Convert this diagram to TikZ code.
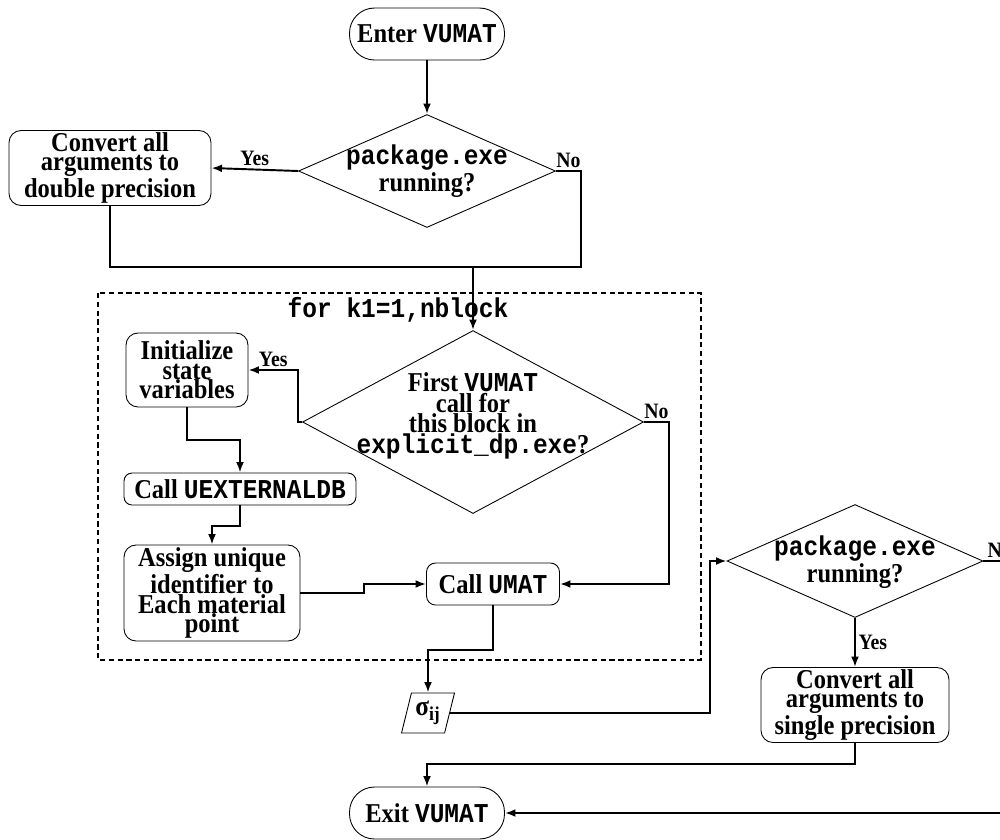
\documentclass[tikz,border=0pt]{standalone}
\usepackage{fontspec}
\setmainfont{Liberation Serif}[FakeStretch=0.9]
\setmonofont{Liberation Mono}[FakeStretch=0.9]
\usetikzlibrary{shapes.geometric}
\usetikzlibrary{arrows.meta,arrows}
\newcommand{\flowfont}{\fontsize{15.5}{11}\selectfont\bfseries}
\newcommand{\lblfont}{\fontsize{12.5}{12}\selectfont\bfseries}

\begin{document}
\begin{tikzpicture}[x=0.02cm,y=-0.02cm,
  terminal/.style={draw, line width=0.5pt, rounded corners=0.5cm, minimum width=3.1cm, minimum height=1.04cm, font=\flowfont},
  procbox/.style={draw, line width=0.5pt, rounded corners=0.24cm, align=center, inner sep=0pt, font=\flowfont},
  decision/.style={draw, diamond, line width=0.5pt, inner sep=0pt},
  dtext/.style={align=center, inner sep=0pt, font=\flowfont},
  iobox/.style={draw, trapezium, trapezium left angle=72, trapezium right angle=108, trapezium stretches=true, line width=0.5pt, minimum width=1.06cm, minimum height=0.8cm, inner sep=0pt, font=\fontsize{16}{16}\selectfont\bfseries},
  flow/.style={line width=1.1pt},
  arr/.style={-{Latex[length=6pt,width=4.5pt]}},
  lbl/.style={font=\lblfont, inner sep=1.5pt},
  loopbox/.style={line width=0.9pt, dash pattern=on 3pt off 2pt}]
\useasboundingbox (0,0) rectangle (1000,839);
\fill[white] (0,0) rectangle (1000,839);
\clip (0,0) rectangle (1000,839);
% Start and first test
\node[terminal] (enter) at (427,34) {Enter \texttt{VUMAT}};
\node[decision, minimum width=5.14cm, minimum height=2.26cm] (dia1) at (427,171) {};
\node[dtext] (dia1t) at (427,171) {\texttt{package.exe}\\running?};
\node[procbox, minimum width=4.04cm, minimum height=1.5cm] (conv1) at (110,168) {Convert all\\arguments to\\double precision};
% Loop over the blocks
\draw[loopbox] (98,293) rectangle (701,660);
\node[font=\flowfont, inner sep=0pt] (loop) at (398,310) {\texttt{for k1=1,nblock}};
\node[decision, minimum width=6.82cm, minimum height=3.66cm] (dia2) at (473,422) {};
\node[dtext] (dia2t) at (473,416) {First \texttt{VUMAT}\\call for\\this block in\\\texttt{explicit\_dp.exe}?};
\node[procbox, minimum width=2.44cm, minimum height=1.48cm] (init) at (187,370) {Initialize\\state\\variables};
\node[procbox, minimum width=4.64cm, minimum height=0.64cm, rounded corners=0.16cm] (uext) at (240,489) {Call \texttt{UEXTERNALDB}};
\node[procbox, minimum width=3.52cm, minimum height=1.92cm] (assign) at (212,593) {Assign unique\\identifier to\\Each material\\point};
\node[procbox, minimum width=2.66cm, minimum height=0.84cm, rounded corners=0.18cm] (umat) at (493,584) {Call \texttt{UMAT}};
% Output and second test
\node[iobox] (sigma) at (428,713) {σ\textsubscript{ij}};
\node[decision, minimum width=5.12cm, minimum height=2.26cm] (dia3) at (855,561) {};
\node[dtext] (dia3t) at (855,562) {\texttt{package.exe}\\running?};
\node[procbox, minimum width=3.76cm, minimum height=1.5cm] (conv2) at (855,705) {Convert all\\arguments to\\single precision};
\node[terminal] (exit) at (427,813) {Exit \texttt{VUMAT}};
% Bend points
\coordinate (m1) at (581,267);
\coordinate (j1) at (473,267);
\coordinate (c10) at (710,713);
\coordinate (c13) at (1016,561);
% Connectors
\draw[flow,arr] (enter) -- (dia1);
\draw[flow,arr] (dia1.west) -- node[lbl,above]{Yes} (conv1.east);
\draw[flow] (dia1.east) -| node[lbl,above,pos=0.25]{No} (m1) -- (j1);
\draw[flow] (conv1.south) |- (j1);
\draw[flow,arr] (j1) -- (dia2.north);
\draw[flow,arr] (dia2.west) -- ++(-4,0) |- node[lbl,above,pos=0.75]{Yes} (init.east);
\draw[flow,arr] (dia2.east) -- node[lbl,above]{No} ++(25,0) |- (umat.east);
\draw[flow,arr] (init.south) -- ++(0,33) -| (uext.north);
\draw[flow,arr] (uext.south) -- ++(0,21) -| (assign.north);
\draw[flow,arr] (assign.east) -- ++(64,0) |- (umat.west);
\draw[flow,arr] (umat.south) -- ++(0,45) -| (sigma.north);
\draw[flow,arr] (sigma.east) -- (c10) |- (dia3.west);
\draw[flow,arr] (dia3.south) -- node[lbl,right]{Yes} (conv2.north);
\draw[flow,arr] (conv2.south) -- ++(0,21) -| (exit.north);
\draw[flow,arr] (dia3.east) -- node[lbl,above]{No} (c13) |- (exit.east);
\end{tikzpicture}
\end{document}
